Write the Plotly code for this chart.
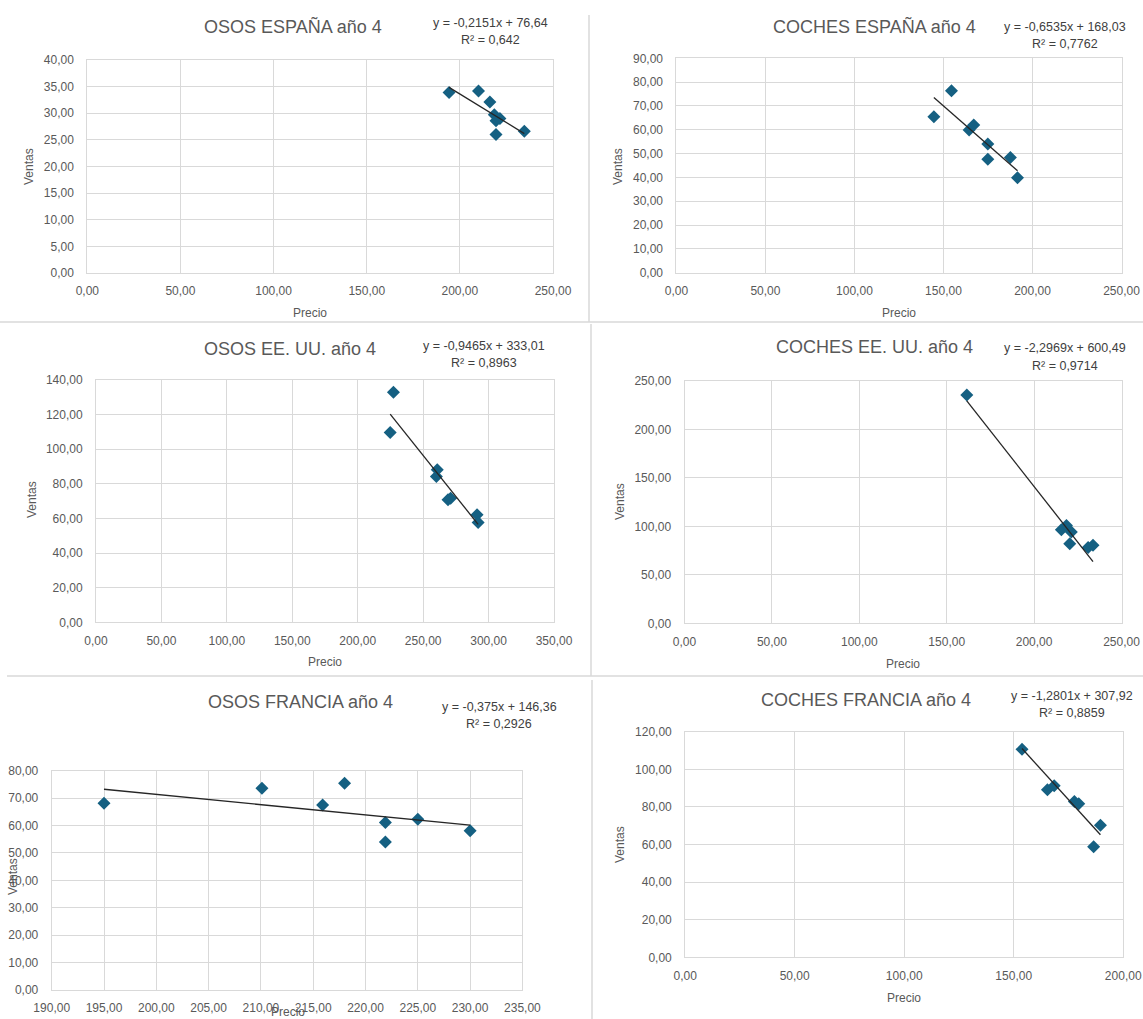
import plotly.graph_objects as go

W, H = 1143, 1019

# ---------------- data ----------------
osos_es_precio = [194.2, 210.0, 216.1, 218.5, 221.5, 219.4, 219.4, 234.6]
osos_es_ventas = [33.9, 34.2, 32.1, 29.7, 29.0, 28.6, 26.0, 26.6]

coches_es_precio = [144.6, 154.5, 164.4, 167.0, 174.9, 174.9, 187.6, 191.6]
coches_es_ventas = [65.5, 76.4, 59.9, 62.0, 54.0, 47.6, 48.4, 39.9]

osos_us_precio = [227.3, 224.8, 260.8, 260.1, 269.0, 271.0, 291.2, 292.0]
osos_us_ventas = [132.9, 109.6, 88.1, 84.2, 70.8, 71.7, 62.1, 57.7]

coches_us_precio = [161.5, 215.6, 218.5, 221.3, 220.4, 230.9, 233.7]
coches_us_ventas = [235.6, 96.6, 101.0, 94.2, 82.2, 78.1, 80.5]

osos_fr_precio = [195.0, 210.1, 215.9, 218.0, 221.9, 221.9, 225.0, 230.0]
osos_fr_ventas = [68.1, 73.6, 67.5, 75.4, 61.1, 54.0, 62.3, 58.1]

coches_fr_precio = [153.8, 165.4, 168.5, 177.7, 179.7, 189.6, 186.5]
coches_fr_ventas = [110.6, 89.1, 91.2, 82.9, 81.7, 70.2, 58.8]

titles = ["OSOS ESPAÑA año 4", "COCHES ESPAÑA año 4", "OSOS EE. UU. año 4",
          "COCHES EE. UU. año 4", "OSOS FRANCIA año 4", "COCHES FRANCIA año 4"]
slopes = [-0.2151, -0.6535, -0.9465, -2.2969, -0.375, -1.2801]
intercepts = [76.64, 168.03, 333.01, 600.49, 146.36, 307.92]
eq_texts = ["y = -0,2151x + 76,64", "y = -0,6535x + 168,03", "y = -0,9465x + 333,01",
            "y = -2,2969x + 600,49", "y = -0,375x + 146,36", "y = -1,2801x + 307,92"]
r2_texts = ["R² = 0,642", "R² = 0,7762", "R² = 0,8963",
            "R² = 0,9714", "R² = 0,2926", "R² = 0,8859"]
x_ranges = [(0, 250, 50), (0, 250, 50), (0, 350, 50), (0, 250, 50), (190, 235, 5), (0, 200, 50)]
y_ranges = [(0, 40, 5), (0, 90, 10), (0, 140, 20), (0, 250, 50), (0, 80, 10), (0, 120, 20)]

series = [(osos_es_precio, osos_es_ventas), (coches_es_precio, coches_es_ventas),
          (osos_us_precio, osos_us_ventas), (coches_us_precio, coches_us_ventas),
          (osos_fr_precio, osos_fr_ventas), (coches_fr_precio, coches_fr_ventas)]

# ---------------- layout (pixel boxes) ----------------
plot_boxes = [(87.3, 553, 60, 273), (676.4, 1121.5, 58.3, 272.7),
              (96, 554, 380, 622.3), (684.5, 1121.5, 381, 623.3),
              (51.7, 522.4, 770.7, 990), (685.2, 1123.2, 731.7, 957.3)]
title_pos = [(293, 27), (874, 27), (290, 349), (874, 347), (300, 702), (866, 700)]
eq_pos = [(490, 22.7, 40), (1065, 27, 44), (484, 346, 363), (1065, 348, 366),
          (499, 707, 724), (1072, 696, 713)]
ventas_pos = [(29, 167), (618, 167), (32, 500), (620, 502), (13, 877), (620, 845)]
precio_pos = [(310, 313), (899, 313), (325, 662), (903, 664), (288, 1012), (904, 998)]

FONT = "Liberation Sans, Arial, sans-serif"
GRID = "#d9d9d9"
TXT = "#595959"
MARK = "#156082"


def px(x):
    return x / W


def py(y):
    return 1 - y / H


fig = go.Figure()
annotations = []
layout_axes = {}

for i in range(6):
    n = "" if i == 0 else str(i + 1)
    xs, ys = series[i]
    fig.add_trace(go.Scatter(x=xs, y=ys, mode="markers",
                             marker=dict(symbol="diamond", size=10, color=MARK,
                                         line=dict(width=0)),
                             xaxis="x" + n, yaxis="y" + n, showlegend=False))
    x0, x1 = min(xs), max(xs)
    fig.add_trace(go.Scatter(x=[x0, x1],
                             y=[slopes[i] * x0 + intercepts[i], slopes[i] * x1 + intercepts[i]],
                             mode="lines", line=dict(color="#262626", width=1.3),
                             xaxis="x" + n, yaxis="y" + n, showlegend=False))
    l, r, t, b = plot_boxes[i]
    xr, yr = x_ranges[i], y_ranges[i]
    common = dict(showgrid=True, gridcolor=GRID, gridwidth=1, zeroline=False,
                  showline=True, linecolor=GRID, linewidth=1, mirror=True,
                  ticks="", tickformat=".2f", automargin=False,
                  tickfont=dict(family=FONT, size=12, color=TXT))
    layout_axes["xaxis" + n] = dict(common, domain=[px(l), px(r)], range=[xr[0], xr[1]],
                                    tick0=xr[0], dtick=xr[2], anchor="y" + n,
                                    ticklabelstandoff=7)
    layout_axes["yaxis" + n] = dict(common, domain=[py(b), py(t)], range=[yr[0], yr[1]],
                                    tick0=yr[0], dtick=yr[2], anchor="x" + n,
                                    ticklabelstandoff=10)
    annotations.append(dict(text=titles[i], x=px(title_pos[i][0]), y=py(title_pos[i][1]),
                            xref="paper", yref="paper", showarrow=False,
                            xanchor="center", yanchor="middle",
                            font=dict(family=FONT, size=18, color=TXT)))
    ex, ey1, ey2 = eq_pos[i]
    annotations.append(dict(text=eq_texts[i], x=px(ex), y=py(ey1), xref="paper", yref="paper",
                            showarrow=False, xanchor="center", yanchor="middle",
                            font=dict(family=FONT, size=12.5, color="#404040")))
    annotations.append(dict(text=r2_texts[i], x=px(ex), y=py(ey2), xref="paper", yref="paper",
                            showarrow=False, xanchor="center", yanchor="middle",
                            font=dict(family=FONT, size=12.5, color="#404040")))
    annotations.append(dict(text="Ventas", x=px(ventas_pos[i][0]), y=py(ventas_pos[i][1]),
                            xref="paper", yref="paper", showarrow=False, textangle=-90,
                            xanchor="center", yanchor="middle",
                            font=dict(family=FONT, size=12, color=TXT)))
    annotations.append(dict(text="Precio", x=px(precio_pos[i][0]), y=py(precio_pos[i][1]),
                            xref="paper", yref="paper", showarrow=False,
                            xanchor="center", yanchor="middle",
                            font=dict(family=FONT, size=12, color=TXT)))

border = dict(color="#d9d9d9", width=1.5)
shapes = [
    dict(type="line", xref="paper", yref="paper", x0=px(589), x1=px(589), y0=py(15), y1=py(322), line=border),
    dict(type="line", xref="paper", yref="paper", x0=px(0), x1=px(1143), y0=py(322), y1=py(322), line=border),
    dict(type="line", xref="paper", yref="paper", x0=px(591), x1=px(591), y0=py(324), y1=py(676), line=border),
    dict(type="line", xref="paper", yref="paper", x0=px(7), x1=px(1143), y0=py(676), y1=py(676), line=border),
    dict(type="line", xref="paper", yref="paper", x0=px(592), x1=px(592), y0=py(680), y1=py(1019), line=border),
]

fig.update_layout(width=W, height=H, margin=dict(l=0, r=0, t=0, b=0, autoexpand=False),
                  paper_bgcolor="white", plot_bgcolor="white",
                  separators=", ", annotations=annotations, shapes=shapes,
                  showlegend=False, **layout_axes)

fig.write_html("out.html")
